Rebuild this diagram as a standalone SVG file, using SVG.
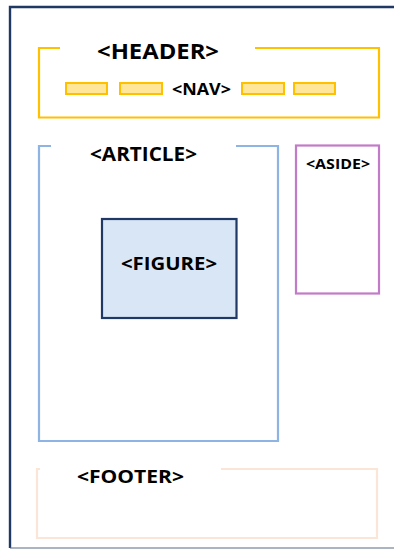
<svg xmlns="http://www.w3.org/2000/svg" width="394" height="550" viewBox="0 0 394 550">
<style>
.lbl{font-family:"Open Sans","Liberation Sans",sans-serif;font-weight:bold;fill:#000}
.box{fill:none;stroke-width:2.2}
</style>
<rect width="394" height="550" fill="#fff"/>
<g id="page">
<path d="M10 548 L10 7 L394 7" fill="none" stroke="#1F3864" stroke-width="2.4"/>
<path d="M10 548 L394 548" fill="none" stroke="#5A6A85" stroke-width="1.2"/>
</g>
<g id="header">
<path class="box" stroke="#FFC000" d="M60 48 L39 48 L39 117.5 L379 117.5 L379 48 L255 48"/>
<text class="lbl" x="97" y="59" font-size="22" textLength="122" lengthAdjust="spacingAndGlyphs">&lt;HEADER&gt;</text>
</g>
<g id="nav">
<g fill="#FFE699" stroke="#FFC000" stroke-width="2">
<rect x="66" y="83" width="41" height="11"/>
<rect x="120" y="83" width="42" height="11"/>
<rect x="242" y="83" width="42" height="11"/>
<rect x="294" y="83" width="41" height="11"/>
</g>
<text class="lbl" x="172" y="95" font-size="15.5" textLength="59" lengthAdjust="spacingAndGlyphs">&lt;NAV&gt;</text>
</g>
<g id="article">
<path class="box" stroke="#8EB4E3" d="M51 146 L39 146 L39 441 L278 441 L278 146 L236 146"/>
<text class="lbl" x="90" y="161" font-size="19" textLength="107" lengthAdjust="spacingAndGlyphs">&lt;ARTICLE&gt;</text>
</g>
<g id="figure">
<rect x="102" y="219" width="134.5" height="99" fill="#D9E6F5" stroke="#1F3864" stroke-width="2.2"/>
<text class="lbl" x="121" y="270" font-size="18.5" textLength="96" lengthAdjust="spacingAndGlyphs">&lt;FIGURE&gt;</text>
</g>
<g id="aside">
<rect class="box" stroke="#C27BC9" x="296" y="145.5" width="83" height="148"/>
<text class="lbl" x="306" y="169" font-size="13.5" textLength="64" lengthAdjust="spacingAndGlyphs">&lt;ASIDE&gt;</text>
</g>
<g id="footer">
<path class="box" stroke="#FBE5D6" d="M40 469 L37 469 L37 538 L377 538 L377 469 L221 469"/>
<text class="lbl" x="77" y="483" font-size="18.5" textLength="107" lengthAdjust="spacingAndGlyphs">&lt;FOOTER&gt;</text>
</g>
<g id="connectors"/>
</svg>
